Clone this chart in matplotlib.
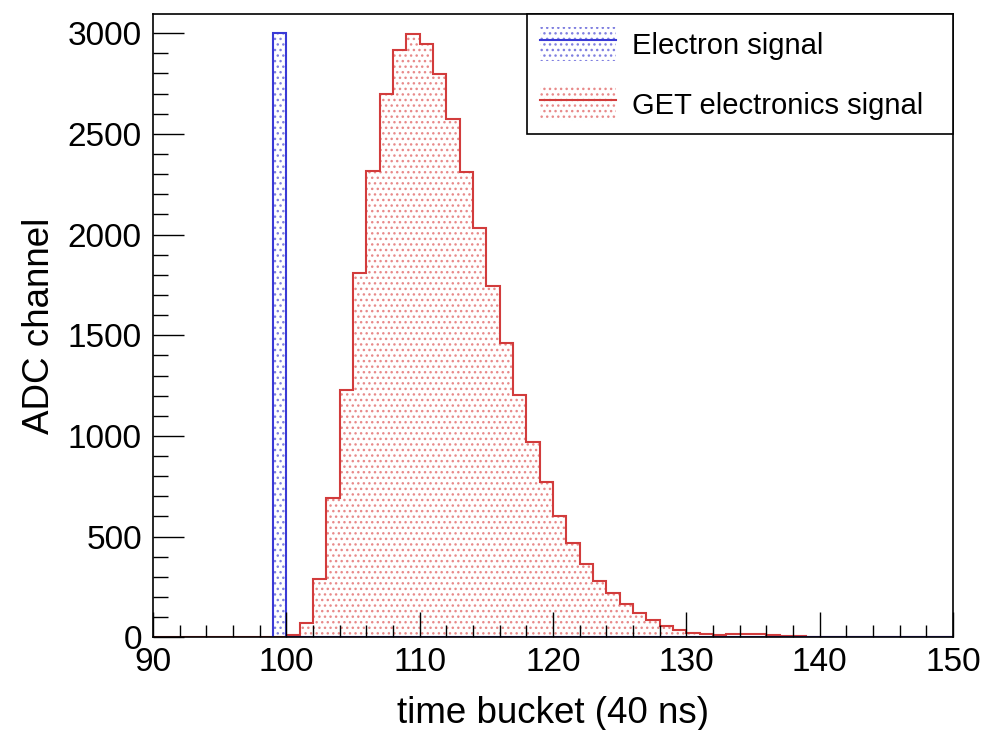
import numpy as np
import matplotlib
matplotlib.use("Agg")
import matplotlib.pyplot as plt
from matplotlib.patches import Patch
from matplotlib.lines import Line2D

plt.rcParams['font.family'] = ['Liberation Sans', 'DejaVu Sans']
plt.rcParams['hatch.linewidth'] = 1.0

# time bucket bin edges (1 bucket per bin)
get_edges = np.arange(90, 151)
electron_edges = np.arange(99, 151)

# GET electronics signal, bins 90..149
get_counts = [0, 0, 0, 0, 0, 0, 0, 0, 0, 0,
              10, 73, 291, 694, 1229, 1807, 2315, 2696, 2918, 2998,
              2946, 2797, 2576, 2313, 2031, 1744, 1463, 1201, 968, 769,
              603, 470, 364, 282, 218, 166, 121, 85, 56, 36,
              23, 14, 13, 14, 15, 15, 11, 8, 5, 3,
              2, 2, 2, 2, 3, 3, 3, 2, 2, 1]

# electron signal, bins 99..149
electron_counts = [3000] + [0] * 50

red_line = '#d23c3c'
red_dots = '#e88a8a'
blue_line = '#3a3ad6'
blue_dots = '#8080e0'

fig = plt.figure(figsize=(9.87, 7.3), dpi=100)
ax = fig.add_axes([0.155, 0.127, 0.8105, 0.854])

# GET signal: dotted fill + outline
ax.stairs(get_counts, get_edges, fill=True, facecolor='none',
          edgecolor=red_dots, hatch='...', linewidth=0)
ax.stairs(get_counts, get_edges, color=red_line, linewidth=1.5)

# electron signal
ax.stairs(electron_counts, electron_edges, fill=True, facecolor='none',
          edgecolor=blue_dots, hatch='...', linewidth=0)
ax.stairs(electron_counts, electron_edges, color=blue_line, linewidth=1.5)

ax.set_xlim(90, 150)
ax.set_ylim(0, 3096)
ax.set_xticks(np.arange(90, 151, 10))
ax.set_xticks(np.arange(90, 151, 2), minor=True)
ax.set_yticks(np.arange(0, 3001, 500))
ax.set_yticks(np.arange(0, 3001, 100), minor=True)

ax.tick_params(which='both', direction='in', top=False, right=False,
               labelsize=24, width=1, colors='black')
ax.tick_params(axis='x', which='major', length=18, pad=7)
ax.tick_params(axis='x', which='minor', length=9)
ax.tick_params(axis='y', which='major', length=22, pad=8)
ax.tick_params(axis='y', which='minor', length=11)

for sp in ax.spines.values():
    sp.set_linewidth(1.2)

ax.set_xlabel('time bucket (40 ns)', fontsize=26.5, labelpad=13)
ax.set_ylabel('ADC channel', fontsize=26.5, labelpad=8)

handles = [
    (Patch(facecolor='none', edgecolor=blue_dots, hatch='...', linewidth=0),
     Line2D([], [], color=blue_line, linewidth=1.5)),
    (Patch(facecolor='none', edgecolor=red_dots, hatch='...', linewidth=0),
     Line2D([], [], color=red_line, linewidth=1.5)),
]
leg = ax.legend(handles, ['Electron signal', 'GET electronics signal'],
                loc='upper left', bbox_to_anchor=(0.4675, 0.809, 0.5325, 0.191),
                mode='expand', fontsize=21, frameon=True, fancybox=False,
                edgecolor='black', framealpha=1, borderpad=0.45,
                handlelength=2.6, handleheight=1.43, handletextpad=0.55,
                labelspacing=0.88, borderaxespad=0)
leg.get_frame().set_linewidth(1.2)

fig.savefig('out.png', dpi=100)
